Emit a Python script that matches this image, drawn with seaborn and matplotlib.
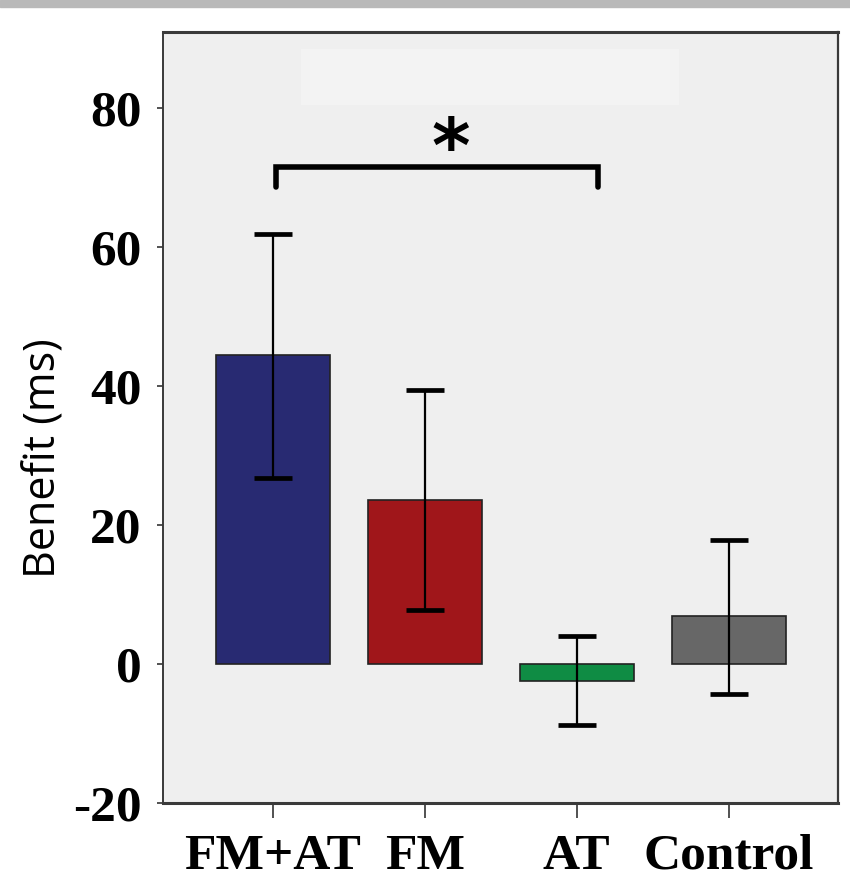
import matplotlib
matplotlib.use("Agg")
import matplotlib.pyplot as plt
from matplotlib.patches import Rectangle
import seaborn as sns
import pandas as pd

# values
groups = ["FM+AT", "FM", "AT", "Control"]
benefit = [44.5, 23.6, -2.4, 6.95]
err_up = [17.4, 15.8, 6.4, 11.0]
err_down = [17.7, 15.8, 6.3, 11.2]
colors = ["#282a72", "#a0161a", "#0f8c44", "#676767"]
yticks = [-20, 0, 20, 40, 60, 80]

df = pd.DataFrame({"group": groups, "benefit": benefit})

sns.set_style("white")
fig = plt.figure(figsize=(8.5, 8.92), dpi=100)
ax = fig.add_axes([0.1914, 0.0994, 0.7945, 0.8651])
ax.set_facecolor("#efefef")

# grey strip at the top of the figure
fig.patches.append(Rectangle((0, 1 - 7 / 892), 1, 7 / 892, transform=fig.transFigure,
                             color="#b9b9b9", zorder=0))

sns.barplot(data=df, x="group", y="benefit", hue="group", palette=colors,
            saturation=1, width=0.75, edgecolor="#222222", linewidth=1.2,
            legend=False, ax=ax, zorder=2)

ax.errorbar(range(len(groups)), benefit, yerr=[err_down, err_up], fmt="none",
            ecolor="black", elinewidth=1.6, capsize=13.5, capthick=3.4, zorder=3)

# faint lighter box near top
ax.add_patch(Rectangle((0.186, 80.4), 2.49, 8.1, color="#f3f3f3", lw=0, zorder=1))

# significance bracket
bx0, bx1, by, leg = 0.02, 2.14, 71.6, 3.0
ax.plot([bx0, bx0, bx1, bx1], [by - leg, by, by, by - leg], color="black",
        lw=4.0, solid_capstyle="round", solid_joinstyle="miter", zorder=4)
ax.text(1.17, 73.7, "*", ha="center", va="center", fontsize=53,
        fontweight="bold", family="DejaVu Sans", color="black", zorder=4)

ax.set_xlim(-0.724, 3.72)
ax.set_ylim(-20, 91)
ax.set_yticks(yticks)
ax.set_yticklabels([str(t) for t in yticks])
ax.set_xlabel("")
ax.set_ylabel("Benefit (ms)", fontsize=31, family="Open Sans", color="black")
ax.yaxis.set_label_coords(-0.142, 0.447)

for lab in ax.get_xticklabels() + ax.get_yticklabels():
    lab.set_family("Liberation Serif")
    lab.set_fontweight("bold")
    lab.set_fontsize(37)
    lab.set_color("black")

ax.tick_params(axis="y", direction="out", length=4, width=1.2, color="#333333", pad=11,
               left=True)
ax.tick_params(axis="x", direction="out", length=11, width=1.2, color="#333333", pad=11,
               bottom=True)

for side, w in [("top", 2.2), ("bottom", 2.2), ("left", 1.4), ("right", 1.6)]:
    ax.spines[side].set_visible(True)
    ax.spines[side].set_color("#3a3a3a")
    ax.spines[side].set_linewidth(w)

fig.savefig("out.png", dpi=100, facecolor="white")
